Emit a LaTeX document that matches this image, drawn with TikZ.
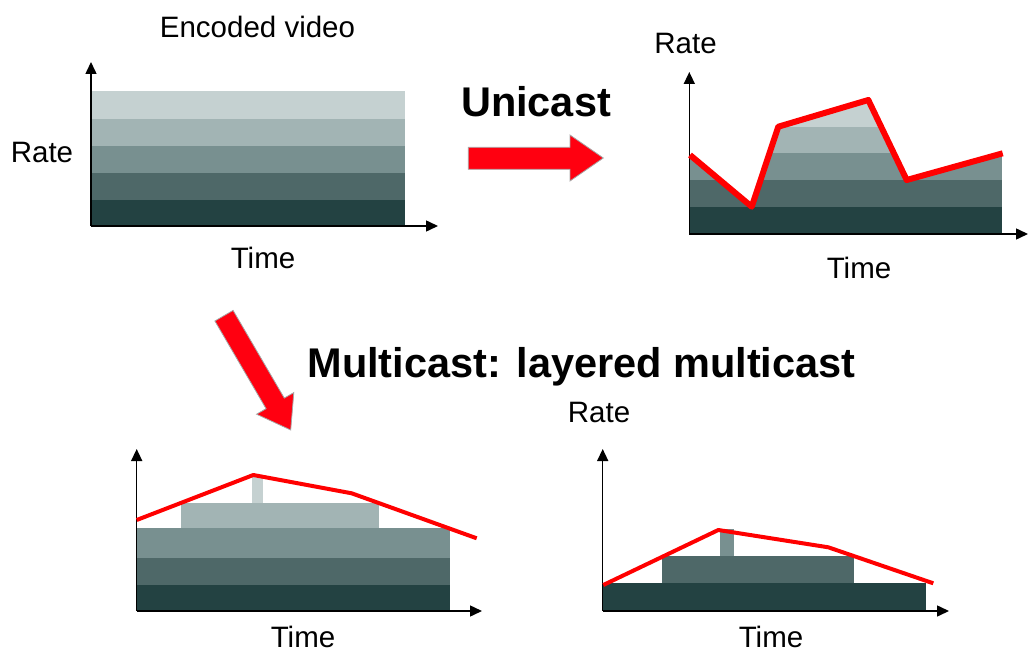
\documentclass[tikz,border=0pt]{standalone}
\usepackage{fontspec}
\setmainfont{Liberation Sans}
\usetikzlibrary{arrows.meta}

\definecolor{bandA}{RGB}{197,209,209}
\definecolor{bandB}{RGB}{162,180,180}
\definecolor{bandC}{RGB}{120,144,144}
\definecolor{bandD}{RGB}{78,104,104}
\definecolor{bandE}{RGB}{35,66,66}
\definecolor{rateline}{RGB}{255,0,0}
\definecolor{arrowred}{RGB}{255,0,16}

\tikzset{
  axis/.style={line width=1.5pt, -{Triangle[length=12pt,width=11pt]}},
  lbl/.style={font=\fontsize{29.5}{31}\selectfont, anchor=base, inner sep=0pt},
  heading/.style={font=\bfseries\fontsize{41.5}{45}\selectfont, anchor=base, inner sep=0pt},
  ratecurve/.style={draw=rateline, line join=round},
  bigarrow/.style={fill=arrowred, draw=gray!70, line width=0.8pt, line join=miter},
}

\begin{document}
\begin{tikzpicture}[x=1pt, y=-1pt]
\useasboundingbox (0,0) rectangle (1028,658);

% ---------- encoded video: five constant layers ----------
\fill[bandE] (91,199.7) rectangle (405,226);
\fill[bandD] (91,172.7) rectangle (405,199.7);
\fill[bandC] (91,145.7) rectangle (405,172.7);
\fill[bandB] (91,119)   rectangle (405,145.7);
\fill[bandA] (91,90.7)  rectangle (405,119);
\coordinate (o1) at (91,226);
\coordinate (y1) at (91,62);
\coordinate (x1) at (438,226);
\draw[axis] (o1) -- (y1);
\draw[axis] (o1) -- (x1);
\node[lbl] (title1) at (257.5,37.3) {Encoded video};
\node[lbl] (rate1) at (42,162.7) {Rate};
\node[lbl] (time1) at (263,268.3) {Time};

% ---------- unicast: rate follows the receiver ----------
\begin{scope}
  \clip (690,155) -- (751.7,206.7) -- (778.3,126.7) -- (868.3,100)
        -- (906.7,180) -- (1002.7,153.3) -- (1002.7,234) -- (690,234) -- cycle;
  \fill[bandE] (689,207)   rectangle (1003,234);
  \fill[bandD] (689,180)   rectangle (1003,207);
  \fill[bandC] (689,153.3) rectangle (1003,180);
  \fill[bandB] (689,126.7) rectangle (1003,153.3);
  \fill[bandA] (689,90)    rectangle (1003,126.7);
\end{scope}
\coordinate (o2) at (689.3,234);
\coordinate (y2) at (689.3,72);
\coordinate (x2) at (1028,234);
\draw[axis] (o2) -- (y2);
\draw[axis] (o2) -- (x2);
\draw[ratecurve, line width=6pt] (690,155) -- (751.7,206.7) -- (778.3,126.7)
      -- (868.3,100) -- (906.7,180) -- (1002.7,153.3);
\node[lbl] (rate2) at (685.5,53.3) {Rate};
\node[lbl] (time2) at (859,278) {Time};

\node[heading] (uni) at (536,116.7) {Unicast};
\draw[bigarrow] (468.3,147.3) -- (570,147.3) -- (570,135) -- (603.3,158)
      -- (570,181) -- (570,169.3) -- (468.3,169.3) -- cycle;

% ---------- layered multicast, receiver 1 ----------
\fill[bandE] (136.7,585)   rectangle (450,611);
\fill[bandD] (136.7,558.3) rectangle (450,585);
\fill[bandC] (136.7,528.3) rectangle (450,558.3);
\fill[bandB] (181,503.3)   rectangle (379.3,528.3);
\fill[bandA] (252.3,476.7) rectangle (263.3,503.3);
\coordinate (o3) at (136.7,611);
\coordinate (y3) at (136.7,449);
\coordinate (x3) at (482,611);
\draw[axis] (o3) -- (y3);
\draw[axis] (o3) -- (x3);
\draw[ratecurve, line width=4pt] (136.7,520) -- (253.3,475) -- (351.7,493.3) -- (476.7,538.3);
\node[lbl] (time3) at (303,647) {Time};

% ---------- layered multicast, receiver 2 ----------
\fill[bandE] (602.7,582.7) rectangle (926,611);
\fill[bandD] (661.7,556)   rectangle (854.3,582.7);
\fill[bandC] (720,529.3)   rectangle (734.3,556);
\coordinate (o4) at (602.7,611);
\coordinate (y4) at (602.7,449);
\coordinate (x4) at (949,611);
\draw[axis] (o4) -- (y4);
\draw[axis] (o4) -- (x4);
\draw[ratecurve, line width=4pt] (603.3,585) -- (718.3,530) -- (828.3,547.3) -- (933.3,583.3);
\node[lbl] (rate4) at (599,422) {Rate};
\node[lbl] (time4) at (771,647) {Time};

\node[heading] (multi) at (581.5,377) {Multicast: layered multicast};
\draw[bigarrow] (233.1,310.4) -- (284.3,398.1) -- (293.8,392.6) -- (290.7,430)
      -- (256.6,414.2) -- (266.1,408.7) -- (214.9,321.0) -- cycle;

\end{tikzpicture}
\end{document}
